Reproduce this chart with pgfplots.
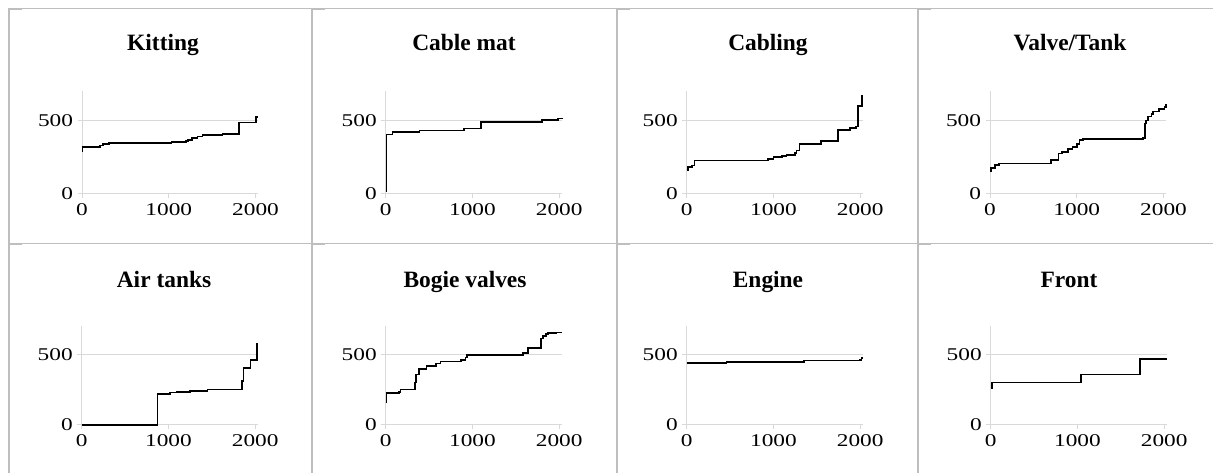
\documentclass[border=0pt]{standalone}
\usepackage{fontspec}
\setmainfont{Liberation Serif}
\newfontfamily\tickfont[FakeStretch=1.3]{Liberation Serif}
\usepackage{pgfplots}
\pgfplotsset{compat=1.18}
\definecolor{axgray}{RGB}{217,217,217}
\definecolor{bordergray}{RGB}{190,190,190}
\pgfplotsset{panel/.style={
  scale only axis, width=176.1bp,
  xmin=0, xmax=2030, ymin=0, ymax=700,
  axis lines*=left,
  axis line style={axgray, line width=1bp},
  xtick={0,1000,2000}, ytick={0,500},
  ymajorgrids, grid style={axgray, line width=1bp},
  tick align=outside, major tick length=4.5bp,
  tick style={axgray, line width=1bp},
  ticklabel style={font=\tickfont\fontsize{18}{19}\selectfont, text=black},
  xticklabel style={yshift=-2bp},
  yticklabel style={xshift=-1bp},
  /pgf/number format/assume math mode=true,
  /pgf/number format/1000 sep={},
  scaled ticks=false,
  clip=false,
  anchor=south west,
  every axis plot post/.append style={black, line width=1.7bp, const plot, mark=none}
}}
\begin{document}
\begin{tikzpicture}[x=1bp,y=1bp]
\useasboundingbox (0,0) rectangle (1213,473);
% cell borders
\draw[bordergray, line width=1bp] (8,464.7) -- (1213,464.7);
\draw[bordergray, line width=1bp] (8,229.7) -- (1213,229.7);
\foreach \xx in {9,312,617,918} {
  \draw[bordergray, line width=2bp] (\xx,465.2) -- (\xx,0);
  \draw[bordergray, line width=2bp] (\xx-1,463.7) -- (\xx+13,463.7);
  \draw[bordergray, line width=2bp] (\xx-1,228.7) -- (\xx+13,228.7);
}
% titles
\tikzset{ttl/.style={font=\bfseries\fontsize{23.5}{26}\selectfont, anchor=base}}
\node[ttl] at (163,422.3) {Kitting};
\node[ttl] at (464,422.3) {Cable mat};
\node[ttl] at (768,422.3) {Cabling};
\node[ttl] at (1070,422.3) {Valve/Tank};
\node[ttl] at (164,185) {Air tanks};
\node[ttl] at (465,185) {Bogie valves};
\node[ttl] at (768,185) {Engine};
\node[ttl] at (1069,185) {Front};

% Kitting
\begin{axis}[panel, at={(82bp,279bp)}, height=102.9bp]
\addplot coordinates {(0,290)(5,322)(210,330)(240,340)(310,348)(1030,352)(1200,360)(1220,368)(1270,380)(1330,391)(1390,400)(1620,409)(1810,486)(2005,525)(2030,525)};
\end{axis}
% Cable mat
\begin{axis}[panel, at={(385.7bp,279bp)}, height=102.9bp]
\addplot coordinates {(0,20)(8,405)(80,420)(390,432)(900,445)(1095,490)(1800,502)(1985,514)(2030,516)};
\end{axis}
% Cabling
\begin{axis}[panel, at={(686.7bp,279bp)}, height=102.9bp]
\addplot coordinates {(0,165)(15,185)(60,193)(90,227)(940,236)(1000,250)(1100,259)(1150,266)(1250,280)(1265,295)(1300,341)(1550,361)(1740,436)(1880,448)(1950,459)(1975,600)(2020,665)(2030,665)};
\end{axis}
% Valve/Tank
\begin{axis}[panel, at={(990bp,279bp)}, height=102.9bp]
\addplot coordinates {(0,155)(10,175)(60,196)(100,207)(700,230)(790,275)(830,284)(900,306)(950,320)(1000,342)(1030,365)(1070,374)(1760,383)(1790,480)(1800,500)(1820,527)(1860,545)(1880,562)(1950,579)(2010,592)(2030,612)};
\end{axis}
% Air tanks
\begin{axis}[panel, at={(81.7bp,48bp)}, height=99bp]
\addplot coordinates {(0,0)(875,218)(1020,229)(1100,233)(1250,238)(1450,250)(1850,310)(1865,403)(1945,460)(2022,575)(2026,575)};
\end{axis}
% Bogie valves
\begin{axis}[panel, at={(385.7bp,48bp)}, height=99bp]
\addplot coordinates {(0,160)(10,225)(150,232)(170,252)(340,300)(350,358)(380,394)(470,415)(580,434)(630,450)(870,462)(920,478)(940,495)(1580,507)(1640,542)(1790,611)(1810,630)(1850,645)(1870,650)(1960,655)(2030,655)};
\end{axis}
% Engine
\begin{axis}[panel, at={(686.7bp,48bp)}, height=99bp]
\addplot coordinates {(0,440)(460,443)(1350,455)(2000,462)(2015,472)(2030,472)};
\end{axis}
% Front
\begin{axis}[panel, at={(990.7bp,48bp)}, height=99bp]
\addplot coordinates {(0,264)(15,300)(1040,358)(1720,465)(2030,465)};
\end{axis}
\end{tikzpicture}
\end{document}
